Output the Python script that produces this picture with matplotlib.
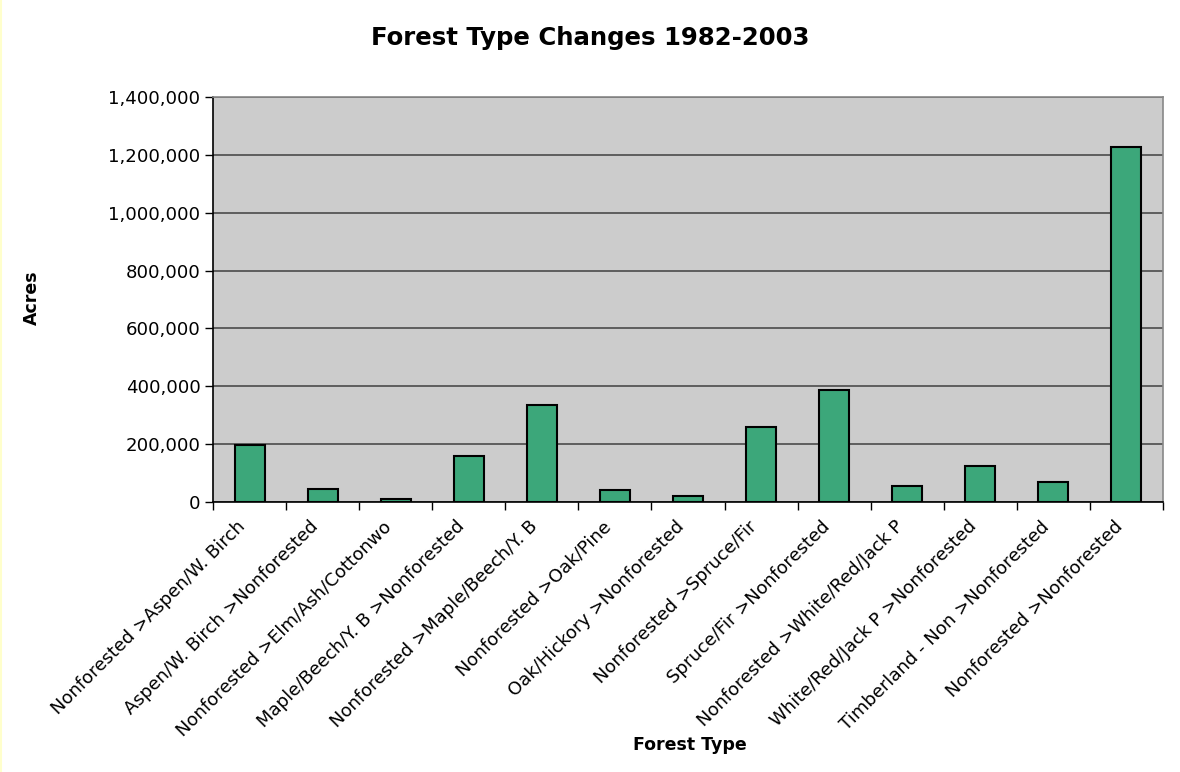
import matplotlib
matplotlib.use("Agg")
import matplotlib.pyplot as plt
import matplotlib.transforms as mtransforms
from matplotlib.ticker import FuncFormatter, FixedLocator, NullFormatter
from matplotlib.lines import Line2D

categories = [
    "Nonforested >Aspen/W. Birch",
    "Aspen/W. Birch >Nonforested",
    "Nonforested >Elm/Ash/Cottonwo",
    "Maple/Beech/Y. B >Nonforested",
    "Nonforested >Maple/Beech/Y. B",
    "Nonforested >Oak/Pine",
    "Oak/Hickory >Nonforested",
    "Nonforested >Spruce/Fir",
    "Spruce/Fir >Nonforested",
    "Nonforested >White/Red/Jack P",
    "White/Red/Jack P >Nonforested",
    "Timberland - Non >Nonforested",
    "Nonforested >Nonforested",
]
acres = [197000, 46000, 10000, 160000, 334000, 43000, 21000,
         260000, 388000, 56000, 124000, 69000, 1227000]
y_ticks = [0, 200000, 400000, 600000, 800000, 1000000, 1200000, 1400000]

plt.rcParams['font.family'] = ['DejaVu Sans']

fig = plt.figure(figsize=(11.8, 7.72), dpi=100)
ax = fig.add_axes([0.1805, 0.3497, 0.9856 - 0.1805, 0.8744 - 0.3497])
ax.set_facecolor('#CCCCCC')

x = list(range(len(categories)))
ax.bar(x, acres, width=0.41, color='#3CA77A', edgecolor='black', linewidth=1.5, zorder=3)

ax.set_xlim(-0.5, len(categories) - 0.5)
ax.set_ylim(0, 1400000)
ax.set_yticks(y_ticks)
ax.yaxis.set_major_formatter(FuncFormatter(lambda v, p: f"{int(v):,}"))
ax.grid(axis='y', color='#555555', linewidth=1.3, zorder=1)
ax.set_axisbelow(True)

ax.set_xticks(x)
ax.set_xticklabels(categories, rotation=45, ha='right', rotation_mode='anchor', fontsize=13)
ax.tick_params(axis='x', which='major', length=0, pad=9)
offset = mtransforms.ScaledTranslation(-13 / 100, -3 / 100, fig.dpi_scale_trans)
for lbl in ax.get_xticklabels():
    lbl.set_transform(lbl.get_transform() + offset)
ax.xaxis.set_minor_locator(FixedLocator([i - 0.5 for i in range(len(categories) + 1)]))
ax.xaxis.set_minor_formatter(NullFormatter())
ax.tick_params(axis='x', which='minor', length=6, width=1, color='black', direction='out')
ax.tick_params(axis='y', length=6, width=1, labelsize=13.1, pad=3)

for s in ['left', 'bottom']:
    ax.spines[s].set_color('black')
    ax.spines[s].set_linewidth(1.2)
for s in ['top', 'right']:
    ax.spines[s].set_color('#888888')
    ax.spines[s].set_linewidth(1.2)

fig.text(0.5, 0.951, "Forest Type Changes 1982-2003", ha='center', va='center',
         fontsize=17.6, fontweight='bold')
fig.text(0.5847, 0.035, "Forest Type", ha='center', va='center', fontsize=12.5, fontweight='bold')
fig.text(0.027, 0.615, "Acres", ha='center', va='center', rotation=90,
         fontsize=12.5, fontweight='bold')

fig.add_artist(Line2D([0.001, 0.001], [0, 1], transform=fig.transFigure,
                      color='#FFFFCC', linewidth=1.5))

fig.savefig("out.png", dpi=100)
